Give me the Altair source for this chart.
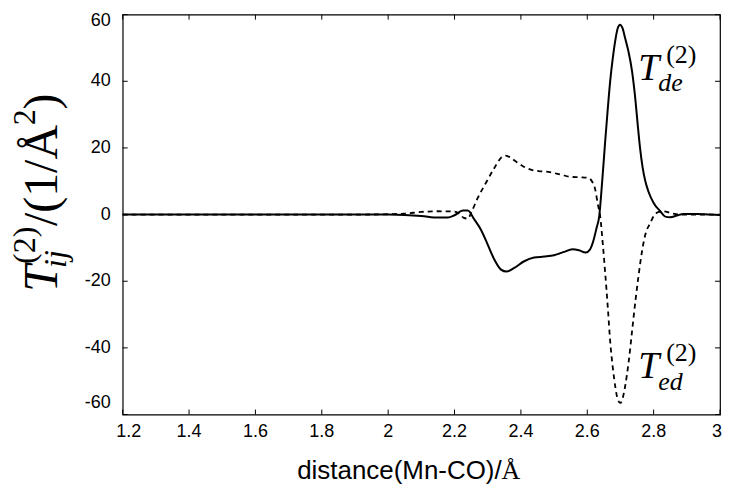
import altair as alt
import pandas as pd

# ---- data ----
x_de = [1.2, 1.6, 1.9, 2.0, 2.05, 2.1, 2.15, 2.18, 2.2, 2.225, 2.24, 2.26, 2.28, 2.30, 2.32,
        2.34, 2.357, 2.38, 2.41, 2.44, 2.47, 2.50, 2.53, 2.555, 2.575, 2.595, 2.608, 2.618,
        2.628, 2.636, 2.645, 2.654, 2.662, 2.669, 2.677, 2.684, 2.692, 2.699, 2.706, 2.714,
        2.724, 2.735, 2.745, 2.752, 2.759, 2.767, 2.775, 2.784, 2.80, 2.82, 2.835, 2.85,
        2.87, 2.89, 2.93, 2.97, 3.0]
y_de = [0, 0, 0, 0, -0.1, -0.4, -0.9, -0.9, -0.2, 1.2, 1.2, -1.5, -4.6, -9.0, -13.5,
        -16.5, -17.1, -16.0, -14.0, -12.9, -12.6, -12.2, -11.2, -10.4, -10.7, -11.4, -10.5, -8.0,
        -4.0, -0.5, 10.0, 22.0, 32.0, 40.0, 47.0, 52.0, 56.0, 57.0, 56.0, 53.0,
        49.0, 43.0, 34.5, 27.0, 20.0, 14.0, 10.0, 7.0, 3.5, 1.0, -0.6, -0.8,
        -0.3, 0.2, 0.2, 0.0, -0.1]

x_ed = [1.2, 1.9, 2.0, 2.05, 2.1, 2.15, 2.2, 2.215, 2.228, 2.24, 2.252, 2.27, 2.294, 2.32,
        2.34, 2.354, 2.37, 2.384, 2.41, 2.432, 2.46, 2.483, 2.52, 2.552, 2.58, 2.603, 2.614,
        2.624, 2.632, 2.639, 2.647, 2.654, 2.662, 2.669, 2.677, 2.685, 2.692, 2.70, 2.707,
        2.715, 2.725, 2.735, 2.745, 2.755, 2.765, 2.775, 2.79, 2.80, 2.815, 2.83, 2.85,
        2.88, 3.0]
y_ed = [0, 0, 0.1, 0.3, 0.8, 1.0, 0.9, 0.2, -1.0, -1.2, 1.0, 5.0, 9.4, 14.0,
        17.0, 17.7, 17.0, 16.0, 14.3, 13.4, 13.0, 12.8, 12.0, 11.3, 11.2, 11.0, 10.0,
        7.5, 3.0, -0.6, -9.0, -17.5, -28.0, -38.0, -46.0, -52.0, -55.5, -56.5, -55.0,
        -51.0, -44.0, -35.0, -26.0, -18.0, -11.0, -6.0, -2.5, -0.5, 0.8, 1.0, 0.5,
        0.0, 0.0]

x_ticks = [1.2, 1.4, 1.6, 1.8, 2, 2.2, 2.4, 2.6, 2.8, 3]
x_labels = ["1.2", "1.4", "1.6", "1.8", "2", "2.2", "2.4", "2.6", "2.8", "3"]
y_ticks = [-60, -40, -20, 0, 20, 40, 60]
y_labels = ["-60", "-40", "-20", "0", "20", "40", "60"]

# annotation labels (data coordinates)
ann_T_text = ["T", "T"]
ann_T_x = [2.754, 2.754]
ann_T_y = [40.5, -49.0]
ann_sub_text = ["de", "ed"]
ann_sub_x = [2.814, 2.814]
ann_sub_y = [37.0, -52.5]
ann_sup_text = ["(2)", "(2)"]
ann_sup_x = [2.838, 2.838]
ann_sup_y = [45.6, -43.8]

W, H = 599, 401
xs = alt.Scale(domain=[1.2, 3.0], nice=False, zero=False)
ys = alt.Scale(domain=[-60, 60], nice=False, zero=False)

df_de = pd.DataFrame({"x": x_de, "y": y_de})
df_ed = pd.DataFrame({"x": x_ed, "y": y_ed})

solid = alt.Chart(df_de).mark_line(color="black", strokeWidth=2, interpolate="monotone").encode(
    x=alt.X("x:Q", scale=xs, axis=None),
    y=alt.Y("y:Q", scale=ys, axis=None),
)
dashed = alt.Chart(df_ed).mark_line(color="black", strokeWidth=1.8, strokeDash=[5, 4],
                                    interpolate="monotone").encode(
    x=alt.X("x:Q", scale=xs, axis=None),
    y=alt.Y("y:Q", scale=ys, axis=None),
)

xt = pd.DataFrame({"v": x_ticks, "lab": x_labels})
yt = pd.DataFrame({"v": y_ticks, "lab": y_labels})
TL = 5
tick_layers = [
    alt.Chart(xt).mark_rule(color="black", strokeWidth=1).encode(
        x=alt.X("v:Q", scale=xs, axis=None), y=alt.value(H), y2=alt.value(H - TL)),
    alt.Chart(xt).mark_rule(color="black", strokeWidth=1).encode(
        x=alt.X("v:Q", scale=xs, axis=None), y=alt.value(0), y2=alt.value(TL)),
    alt.Chart(yt).mark_rule(color="black", strokeWidth=1).encode(
        y=alt.Y("v:Q", scale=ys, axis=None), x=alt.value(0), x2=alt.value(TL)),
    alt.Chart(yt).mark_rule(color="black", strokeWidth=1).encode(
        y=alt.Y("v:Q", scale=ys, axis=None), x=alt.value(W), x2=alt.value(W - TL)),
]

LF = "Liberation Sans"
LS = 18
x_first = xt.iloc[:1]
x_last = xt.iloc[-1:]
x_rest = xt.iloc[1:-1]
y_bot = yt[yt.v == -60]
y_top = yt[yt.v == 60]
y_mid = yt[(yt.v != -60) & (yt.v != 60)]

label_layers = [
    alt.Chart(x_rest).mark_text(align="center", baseline="top", font=LF, fontSize=LS, color="black").encode(
        x=alt.X("v:Q", scale=xs, axis=None), y=alt.value(H + 9), text="lab:N"),
    alt.Chart(x_first).mark_text(align="center", baseline="top", font=LF, fontSize=LS, color="black", dx=6).encode(
        x=alt.X("v:Q", scale=xs, axis=None), y=alt.value(H + 9), text="lab:N"),
    alt.Chart(x_last).mark_text(align="center", baseline="top", font=LF, fontSize=LS, color="black", dx=-3).encode(
        x=alt.X("v:Q", scale=xs, axis=None), y=alt.value(H + 9), text="lab:N"),
    alt.Chart(y_mid).mark_text(align="right", baseline="middle", font=LF, fontSize=LS, color="black").encode(
        y=alt.Y("v:Q", scale=ys, axis=None), x=alt.value(-12), text="lab:N"),
    alt.Chart(y_top).mark_text(align="right", baseline="middle", font=LF, fontSize=LS, color="black", dy=6).encode(
        y=alt.Y("v:Q", scale=ys, axis=None), x=alt.value(-12), text="lab:N"),
    alt.Chart(y_bot).mark_text(align="right", baseline="middle", font=LF, fontSize=LS, color="black", dy=-12).encode(
        y=alt.Y("v:Q", scale=ys, axis=None), x=alt.value(-12), text="lab:N"),
]

def ann_layer(texts, xv, yv, size, style):
    d = pd.DataFrame({"t": texts, "x": xv, "y": yv})
    return alt.Chart(d).mark_text(align="left", baseline="alphabetic", font="Liberation Serif",
                                  fontSize=size, fontStyle=style, color="black").encode(
        x=alt.X("x:Q", scale=xs, axis=None), y=alt.Y("y:Q", scale=ys, axis=None), text="t:N")

ann_layers = [
    ann_layer(ann_T_text, ann_T_x, ann_T_y, 38, "italic"),
    ann_layer(ann_sub_text, ann_sub_x, ann_sub_y, 26, "italic"),
    ann_layer(ann_sup_text, ann_sup_x, ann_sup_y, 26, "normal"),
]

def px_text(s, px, py, size, font, style="normal", angle=0, align="left"):
    d = pd.DataFrame({"t": [s]})
    kw = dict(align=align, baseline="alphabetic", font=font, fontSize=size,
              fontStyle=style, color="black")
    if angle:
        kw["angle"] = angle
    return alt.Chart(d).mark_text(**kw).encode(x=alt.value(px), y=alt.value(py), text="t:N")

# y-axis title  T_ij^(2)/(1/Å^2), rotated
bx, sup_x, sub_x = -66, -88, -57
y0 = 278
title_layers = [
    px_text("T", bx, y0, 48, "Liberation Serif", "italic", 270),
    px_text("ij", sub_x, y0 - 24, 32, "Liberation Serif", "italic", 270),
    px_text("(2)", sup_x, y0 - 28, 32, "Liberation Serif", "normal", 270),
    px_text("/(1/Å", bx, y0 - 66, 48, "Liberation Serif", "normal", 270),
    px_text("2", sup_x, y0 - 167, 32, "Liberation Serif", "normal", 270),
    px_text(")", bx, y0 - 183, 48, "Liberation Serif", "normal", 270),
    # x-axis title
    px_text("distance(Mn-CO)/", 380, 466, 26, "Liberation Sans", "normal", 0, "right"),
    px_text("Å", 380, 466, 26, "Liberation Serif", "normal", 0, "left"),
]

chart = alt.layer(solid, dashed, *tick_layers, *label_layers, *ann_layers, *title_layers).properties(
    width=W, height=H,
    autosize=alt.AutoSizeParams(type="none"),
    padding={"left": 115, "top": 6, "right": 2, "bottom": 70},
).configure_view(stroke="black", strokeWidth=1.2)

chart.save("out.html", embed_options={"renderer": "svg", "actions": False})
